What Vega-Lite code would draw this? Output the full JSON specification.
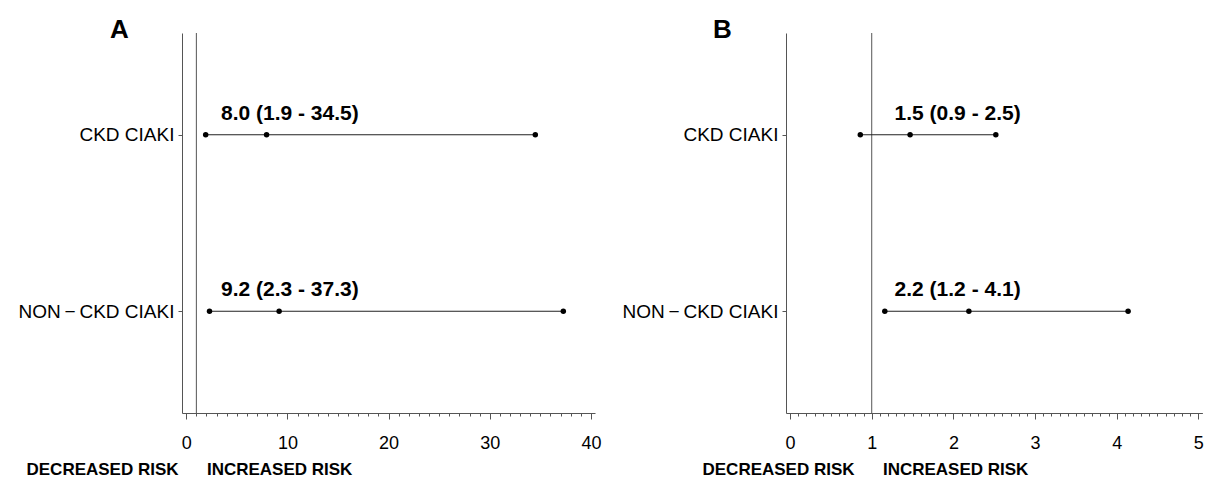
{
  "$schema": "https://vega.github.io/schema/vega-lite/v6.json",
  "background": "white",
  "padding": {"left": 0, "top": 16, "right": 0, "bottom": 0},
  "spacing": 5,
  "config": {
    "view": {"stroke": null},
    "font": "Liberation Sans",
    "axis": {"grid": false, "labelFlush": false, "labelOverlap": false, "labelColor": "black", "labelFont": "Liberation Sans", "domainColor": "#555", "tickColor": "#555", "titleColor": "black", "titleFont": "Liberation Sans"}
  },
  "datasets": {
    "a": [
      {"group": "CKD CIAKI", "lo": 1.92, "est": 7.94, "hi": 34.5, "label": "8.0 (1.9 - 34.5)"},
      {"group": "NON\u2009−\u2009CKD CIAKI", "lo": 2.3, "est": 9.18, "hi": 37.27, "label": "9.2 (2.3 - 37.3)"}
    ],
    "b": [
      {"group": "CKD CIAKI", "lo": 0.86, "est": 1.47, "hi": 2.52, "label": "1.5 (0.9 - 2.5)"},
      {"group": "NON\u2009−\u2009CKD CIAKI", "lo": 1.16, "est": 2.19, "hi": 4.14, "label": "2.2 (1.2 - 4.1)"}
    ],
    "ref": [{"ref": 1}]
  },
  "hconcat": [
    {
      "width": 413,
      "height": 380,
      "title": {"text": "A", "anchor": "start", "frame": "group", "dx": -72, "dy": 27, "offset": -4, "baseline": "alphabetic", "fontSize": 26, "fontWeight": "bold", "font": "Liberation Sans", "color": "black"},
      "resolve": {"axis": {"x": "independent"}},
      "layer": [
        {
          "data": {"name": "ref"},
          "mark": {"type": "rule", "color": "#555", "strokeWidth": 1},
          "encoding": {
            "x": {"field": "ref", "type": "quantitative", "scale": {"domain": [-0.42, 40.4], "nice": false, "zero": false},
              "axis": {"orient": "bottom", "values": [0,1,2,3,4,5,6,7,8,9,10,11,12,13,14,15,16,17,18,19,20,21,22,23,24,25,26,27,28,29,30,31,32,33,34,35,36,37,38,39,40], "tickSize": 3, "labels": false, "title": null, "domain": false}}
          }
        },
        {
          "data": {"name": "a"},
          "mark": {"type": "rule", "color": "#222", "strokeWidth": 1.1},
          "encoding": {
            "x": {"field": "lo", "type": "quantitative", "scale": {"domain": [-0.42, 40.4], "nice": false, "zero": false},
              "axis": {"orient": "bottom", "values": [0, 10, 20, 30, 40], "tickSize": 6, "labelFontSize": 18, "labelPadding": 15, "domain": true,
                "title": "DECREASED RISK\u00a0\u00a0\u00a0\u00a0\u00a0\u00a0INCREASED RISK", "titleFontSize": 17, "titleFontWeight": "bold", "titleAnchor": "start", "titleAlign": "left", "titleX": -156, "titleY": 56, "titleBaseline": "middle"}},
            "x2": {"field": "hi"},
            "y": {"field": "group", "type": "nominal", "sort": ["CKD CIAKI", "NON\u2009−\u2009CKD CIAKI"], "scale": {"type": "point", "padding": 0.5765},
              "axis": {"title": null, "labelFontSize": 19, "tickSize": 4, "labelPadding": 4, "minExtent": 182, "maxExtent": 182}}
          }
        },
        {
          "data": {"name": "a"},
          "transform": [{"fold": ["lo", "est", "hi"], "as": ["k", "v"]}],
          "mark": {"type": "circle", "color": "black", "opacity": 1, "size": 30},
          "encoding": {
            "x": {"field": "v", "type": "quantitative", "scale": {"domain": [-0.42, 40.4], "nice": false, "zero": false}, "axis": null},
            "y": {"field": "group", "type": "nominal", "sort": ["CKD CIAKI", "NON\u2009−\u2009CKD CIAKI"]}
          }
        },
        {
          "data": {"name": "a"},
          "mark": {"type": "text", "align": "left", "baseline": "middle", "dy": -21, "fontSize": 21, "fontWeight": "bold", "color": "black", "font": "Liberation Sans"},
          "encoding": {
            "x": {"datum": 3.43, "type": "quantitative", "scale": {"domain": [-0.42, 40.4], "nice": false, "zero": false}, "axis": null},
            "y": {"field": "group", "type": "nominal", "sort": ["CKD CIAKI", "NON\u2009−\u2009CKD CIAKI"]},
            "text": {"field": "label"}
          }
        }
      ]
    },
    {
      "width": 416.4,
      "height": 380,
      "title": {"text": "B", "anchor": "start", "frame": "group", "dx": -73, "dy": 27, "offset": -4, "baseline": "alphabetic", "fontSize": 26, "fontWeight": "bold", "font": "Liberation Sans", "color": "black"},
      "resolve": {"axis": {"x": "independent"}},
      "layer": [
        {
          "data": {"name": "ref"},
          "mark": {"type": "rule", "color": "#555", "strokeWidth": 1},
          "encoding": {
            "x": {"field": "ref", "type": "quantitative", "scale": {"domain": [-0.05, 5.05], "nice": false, "zero": false},
              "axis": {"orient": "bottom", "values": [0,0.1,0.2,0.3,0.4,0.5,0.6,0.7,0.8,0.9,1,1.1,1.2,1.3,1.4,1.5,1.6,1.7,1.8,1.9,2,2.1,2.2,2.3,2.4,2.5,2.6,2.7,2.8,2.9,3,3.1,3.2,3.3,3.4,3.5,3.6,3.7,3.8,3.9,4,4.1,4.2,4.3,4.4,4.5,4.6,4.7,4.8,4.9,5], "tickSize": 3, "labels": false, "title": null, "domain": false}}
          }
        },
        {
          "data": {"name": "b"},
          "mark": {"type": "rule", "color": "#222", "strokeWidth": 1.1},
          "encoding": {
            "x": {"field": "lo", "type": "quantitative", "scale": {"domain": [-0.05, 5.05], "nice": false, "zero": false},
              "axis": {"orient": "bottom", "values": [0, 1, 2, 3, 4, 5], "tickSize": 6, "labelFontSize": 18, "labelPadding": 15, "domain": true,
                "title": "DECREASED RISK\u00a0\u00a0\u00a0\u00a0\u00a0\u00a0INCREASED RISK", "titleFontSize": 17, "titleFontWeight": "bold", "titleAnchor": "start", "titleAlign": "left", "titleX": -84, "titleY": 56, "titleBaseline": "middle"}},
            "x2": {"field": "hi"},
            "y": {"field": "group", "type": "nominal", "sort": ["CKD CIAKI", "NON\u2009−\u2009CKD CIAKI"], "scale": {"type": "point", "padding": 0.5765},
              "axis": {"title": null, "labelFontSize": 19, "tickSize": 4, "labelPadding": 4, "minExtent": 180, "maxExtent": 180}}
          }
        },
        {
          "data": {"name": "b"},
          "transform": [{"fold": ["lo", "est", "hi"], "as": ["k", "v"]}],
          "mark": {"type": "circle", "color": "black", "opacity": 1, "size": 30},
          "encoding": {
            "x": {"field": "v", "type": "quantitative", "scale": {"domain": [-0.05, 5.05], "nice": false, "zero": false}, "axis": null},
            "y": {"field": "group", "type": "nominal", "sort": ["CKD CIAKI", "NON\u2009−\u2009CKD CIAKI"]}
          }
        },
        {
          "data": {"name": "b"},
          "mark": {"type": "text", "align": "left", "baseline": "middle", "dy": -21, "fontSize": 21, "fontWeight": "bold", "color": "black", "font": "Liberation Sans"},
          "encoding": {
            "x": {"datum": 1.28, "type": "quantitative", "scale": {"domain": [-0.05, 5.05], "nice": false, "zero": false}, "axis": null},
            "y": {"field": "group", "type": "nominal", "sort": ["CKD CIAKI", "NON\u2009−\u2009CKD CIAKI"]},
            "text": {"field": "label"}
          }
        }
      ]
    }
  ]
}
